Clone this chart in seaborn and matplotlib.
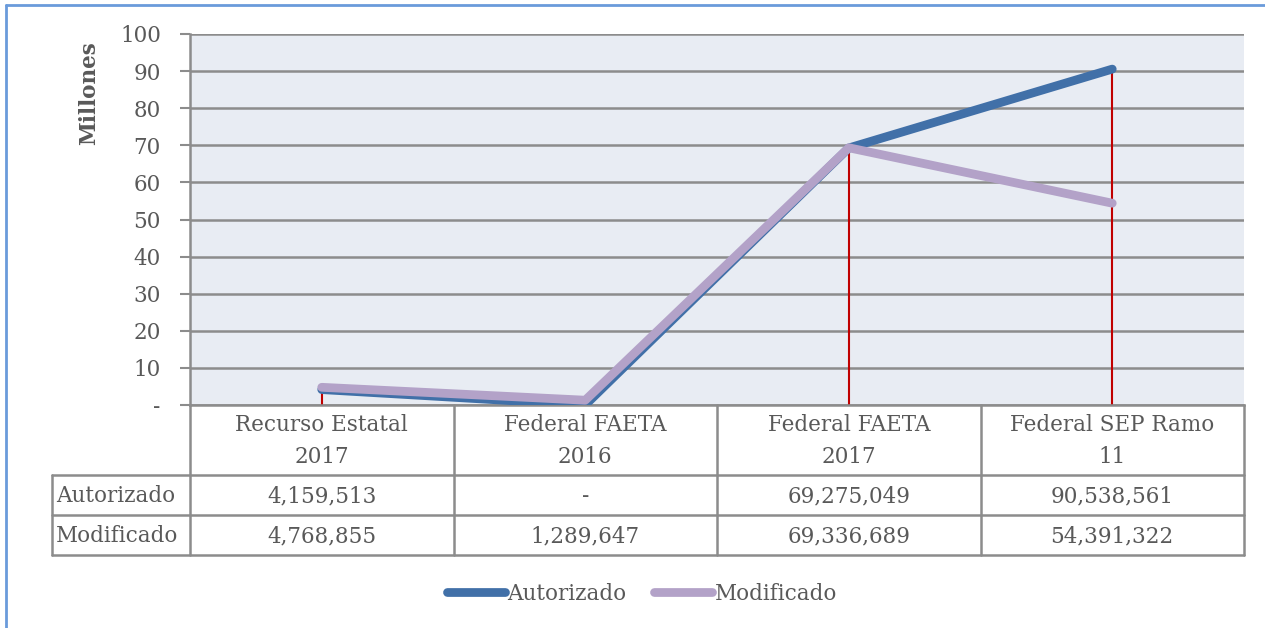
import numpy as np
import pandas as pd
import seaborn as sns
import matplotlib.pyplot as plt
from matplotlib.lines import Line2D
from matplotlib import transforms

categorias = ['Recurso Estatal\n2017', 'Federal FAETA\n2016', 'Federal FAETA\n2017', 'Federal SEP Ramo\n11']
autorizado = [4159513, 0, 69275049, 90538561]
modificado = [4768855, 1289647, 69336689, 54391322]
series = ['Autorizado', 'Modificado']
colores = {'Autorizado': '#4170A8', 'Modificado': '#B3A2C8'}
yticks = [0, 10, 20, 30, 40, 50, 60, 70, 80, 90, 100]

sns.set_style('white')
plt.rcParams['font.family'] = ['DejaVu Serif']
txt_color = '#595959'
grid_color = '#8C8C8C'
fs = 15.5

df = pd.DataFrame({
    'x': list(range(len(categorias))) * 2,
    'valor': [v / 1e6 for v in autorizado + modificado],
    'serie': ['Autorizado'] * 4 + ['Modificado'] * 4,
})

W, H = 1265, 628
fig = plt.figure(figsize=(W / 100, H / 100), dpi=100)
ax = fig.add_axes([190 / W, 1 - 405 / H, 1054 / W, 371 / H])
ax.set_facecolor('#E8ECF3')

# drop lines from highest point
tope = np.maximum(autorizado, modificado) / 1e6
ax.vlines(range(len(categorias)), 0, tope, color='#C00000', lw=1.5, zorder=2)

sns.lineplot(data=df, x='x', y='valor', hue='serie', palette=colores, sort=False,
             linewidth=6.3, legend=False, ax=ax, zorder=3)
for ln in ax.get_lines():
    ln.set_solid_capstyle('round')
    ln.set_solid_joinstyle('round')

ax.set_xlim(-0.5, len(categorias) - 0.5)
ax.set_ylim(0, 100)
ax.set_yticks(yticks)
ax.set_yticklabels(['-' if t == 0 else str(t) for t in yticks], fontsize=fs, color=txt_color)
ax.set_xticks([])
ax.set_xlabel('')
ax.set_ylabel('Millones', fontsize=fs, fontweight='bold', color=txt_color)
ax.yaxis.set_label_coords(-0.085, 0.84)
ax.yaxis.grid(True, color=grid_color, lw=1.8)
ax.set_axisbelow(True)
ax.tick_params(axis='y', length=7, width=1.5, color=grid_color, pad=14, left=True)
for s in ['top', 'right']:
    ax.spines[s].set_visible(False)
ax.spines['left'].set_color(grid_color)
ax.spines['left'].set_linewidth(1.8)
ax.spines['bottom'].set_color(grid_color)
ax.spines['bottom'].set_linewidth(1.8)

# data table below
def fy(py):
    return 1 - py / H

def fx(px):
    return px / W

bt = transforms.blended_transform_factory(ax.transData, fig.transFigure)
n = len(categorias)
y_top, y_h, y_r1, y_r2 = 405, 475, 515, 555
lkw = dict(color=grid_color, lw=1.8, clip_on=False)
for e in np.arange(-0.5, n, 1.0):
    fig.add_artist(Line2D([e, e], [fy(y_top), fy(y_r2)], transform=bt, **lkw))
for yy in [y_h, y_r1, y_r2]:
    fig.add_artist(Line2D([fx(52), fx(1244)], [fy(yy), fy(yy)], transform=fig.transFigure, **lkw))
fig.add_artist(Line2D([fx(52), fx(52)], [fy(y_h), fy(y_r2)], transform=fig.transFigure, **lkw))

def fmt(v):
    return '-' if v == 0 else f'{v:,}'

for i, c in enumerate(categorias):
    fig.text(i, fy((y_top + y_h) / 2 + 1), c, transform=bt, ha='center', va='center',
             fontsize=fs, color=txt_color, linespacing=1.6)
    fig.text(i, fy((y_h + y_r1) / 2 + 1), fmt(autorizado[i]), transform=bt, ha='center',
             va='center', fontsize=fs, color=txt_color)
    fig.text(i, fy((y_r1 + y_r2) / 2 + 1), fmt(modificado[i]), transform=bt, ha='center',
             va='center', fontsize=fs, color=txt_color)
for nombre, yy in zip(series, [(y_h + y_r1) / 2, (y_r1 + y_r2) / 2]):
    fig.text(fx(56), fy(yy + 1), nombre, ha='left', va='center', fontsize=fs, color=txt_color)

handles = [Line2D([], [], color=colores[s], lw=6.3, solid_capstyle='round') for s in series]
leg = fig.legend(handles, series, loc='center', bbox_to_anchor=(fx(642), fy(594)), ncol=2,
                 frameon=False, fontsize=fs, handlelength=2.7, handletextpad=0.1,
                 columnspacing=1.3)
for t in leg.get_texts():
    t.set_color(txt_color)

# outer chart border
fig.add_artist(Line2D([fx(6), fx(6)], [fy(5), 0], transform=fig.transFigure, color='#6A9BDB', lw=2))
fig.add_artist(Line2D([fx(6), 1], [fy(5), fy(5)], transform=fig.transFigure, color='#6A9BDB', lw=2))

fig.savefig('out.png', dpi=100)
